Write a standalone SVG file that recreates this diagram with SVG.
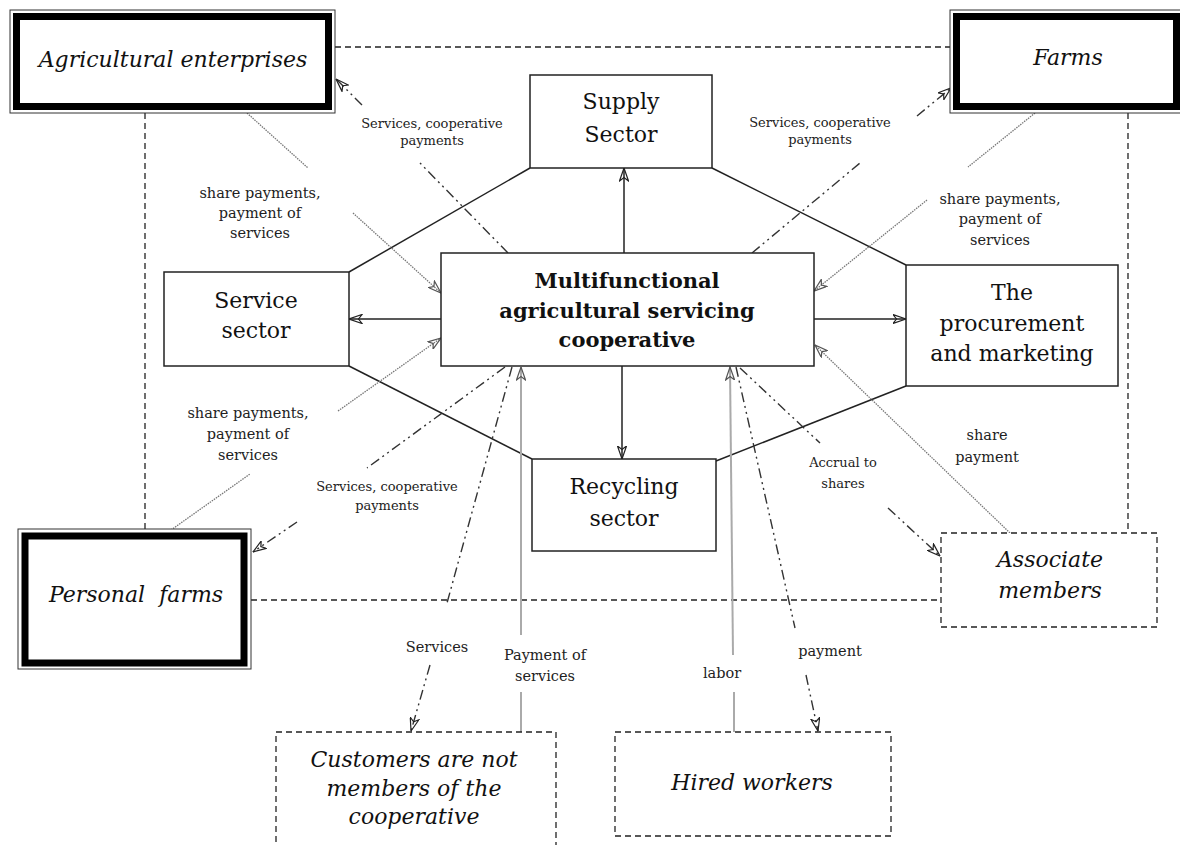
<svg xmlns="http://www.w3.org/2000/svg" width="1180" height="845" viewBox="0 0 1180 845">
  <style>
    .bg { fill: #ffffff; }
    .box { fill: #ffffff; stroke: #222; stroke-width: 1.5; }
    .dbox { fill: #ffffff; stroke: #222; stroke-width: 1.3; stroke-dasharray: 6 4; }
    .outer { fill: #ffffff; stroke: #333; stroke-width: 1; }
    .thick { fill: none; stroke: #000; stroke-width: 7; }
    .t { font-family: "DejaVu Serif", "Liberation Serif", serif; font-size: 22px; fill: #111; text-anchor: middle; }
    .it { font-style: italic; }
    .b { font-weight: bold; font-size: 21px; }
    .lbl { font-family: "DejaVu Serif", "Liberation Serif", serif; font-size: 14.5px; fill: #222; text-anchor: middle; }
    .sm { font-size: 13px; }
    .solid { fill: none; stroke: #222; stroke-width: 1.5; }
    .dashed { fill: none; stroke: #222; stroke-width: 1.3; stroke-dasharray: 6 4; }
    .dd { fill: none; stroke: #333; stroke-width: 1.4; stroke-dasharray: 10 4 2 4 2 4; }
    .dot { fill: none; stroke: #777; stroke-width: 1.3; stroke-dasharray: 1.5 1; }
    .gray { fill: none; stroke: #aaa; stroke-width: 2; }
  </style>
  <defs>
    <marker id="ah" viewBox="0 0 14 10" refX="13.5" refY="5" markerWidth="14" markerHeight="10" markerUnits="userSpaceOnUse" orient="auto">
      <path d="M0.5,0.5 L13.5,5 L0.5,9.5 L4,5 Z" fill="none" stroke="#222" stroke-width="1.2"/>
    </marker>
    <marker id="ahg" viewBox="0 0 14 10" refX="13.5" refY="5" markerWidth="14" markerHeight="10" markerUnits="userSpaceOnUse" orient="auto">
      <path d="M0.5,0.5 L13.5,5 L0.5,9.5 L4,5 Z" fill="none" stroke="#555" stroke-width="1.2"/>
    </marker>
  </defs>

  <rect class="bg" x="0" y="0" width="1180" height="845"/>

  <!-- connectors -->
  <g id="connectors">
    <!-- dashed links between the member groups -->
    <line class="dashed" x1="335" y1="47" x2="950" y2="47"/>
    <line class="dashed" x1="145" y1="113" x2="145" y2="529"/>
    <line class="dashed" x1="1128" y1="113" x2="1128" y2="533"/>
    <line class="dashed" x1="251" y1="600" x2="941" y2="600"/>

    <!-- sector ring -->
    <line class="solid" x1="530" y1="168" x2="349" y2="272"/>
    <line class="solid" x1="712" y1="168" x2="906" y2="265"/>
    <line class="solid" x1="349" y1="366" x2="532" y2="459"/>
    <line class="solid" x1="716" y1="461" x2="906" y2="386"/>

    <!-- cooperative to sectors -->
    <line class="solid" x1="624" y1="253" x2="624" y2="168" marker-end="url(#ah)"/>
    <line class="solid" x1="441" y1="319" x2="349" y2="319" marker-end="url(#ah)"/>
    <line class="solid" x1="814" y1="319" x2="906" y2="319" marker-end="url(#ah)"/>
    <line class="solid" x1="622" y1="366" x2="622" y2="459" marker-end="url(#ah)"/>

    <!-- agricultural enterprises -->
    <line class="dot" x1="247" y1="113" x2="308" y2="168"/>
    <line class="dot" x1="353" y1="213" x2="441" y2="293" marker-end="url(#ahg)"/>
    <line class="dd" x1="508" y1="253" x2="420" y2="163"/>
    <line class="dd" x1="362" y1="105" x2="336" y2="79" marker-end="url(#ah)"/>

    <!-- farms -->
    <line class="dd" x1="752" y1="253" x2="860" y2="163"/>
    <line class="dd" x1="917" y1="116" x2="951" y2="88" marker-end="url(#ah)"/>
    <line class="dot" x1="1035" y1="113" x2="968" y2="167"/>
    <line class="dot" x1="927" y1="200" x2="814" y2="291" marker-end="url(#ahg)"/>

    <!-- personal farms -->
    <line class="dot" x1="171" y1="530" x2="250" y2="474"/>
    <line class="dot" x1="338" y1="411" x2="441" y2="338" marker-end="url(#ahg)"/>
    <line class="dd" x1="505" y1="367" x2="367" y2="468"/>
    <line class="dd" x1="297" y1="522" x2="253" y2="552" marker-end="url(#ah)"/>

    <!-- customers who are not members -->
    <line class="dd" x1="512" y1="367" x2="447" y2="603"/>
    <line class="dd" x1="430" y1="665" x2="411" y2="731" marker-end="url(#ah)"/>
    <line class="gray" x1="521" y1="732" x2="521" y2="692"/>
    <line class="gray" x1="521" y1="635" x2="521" y2="367" marker-end="url(#ahg)"/>

    <!-- hired workers -->
    <line class="gray" x1="734" y1="732" x2="734" y2="692"/>
    <line class="gray" x1="733" y1="655" x2="730" y2="367" marker-end="url(#ahg)"/>
    <line class="dd" x1="736" y1="367" x2="795" y2="628"/>
    <line class="dd" x1="806" y1="675" x2="818" y2="731" marker-end="url(#ah)"/>

    <!-- associate members -->
    <line class="dd" x1="740" y1="368" x2="820" y2="443"/>
    <line class="dd" x1="888" y1="508" x2="940" y2="556" marker-end="url(#ah)"/>
    <line class="dot" x1="1010" y1="533" x2="815" y2="345" marker-end="url(#ahg)"/>

    <!-- flow labels -->
    <text class="lbl sm" x="432" y="128">Services, cooperative</text>
    <text class="lbl sm" x="432" y="145">payments</text>
    <text class="lbl sm" x="820" y="127">Services, cooperative</text>
    <text class="lbl sm" x="820" y="144">payments</text>
    <text class="lbl" x="260" y="198">share payments,</text>
    <text class="lbl" x="260" y="218">payment of</text>
    <text class="lbl" x="260" y="238">services</text>
    <text class="lbl" x="1000" y="204">share payments,</text>
    <text class="lbl" x="1000" y="224">payment of</text>
    <text class="lbl" x="1000" y="245">services</text>
    <text class="lbl" x="248" y="418">share payments,</text>
    <text class="lbl" x="248" y="439">payment of</text>
    <text class="lbl" x="248" y="460">services</text>
    <text class="lbl sm" x="387" y="491">Services, cooperative</text>
    <text class="lbl sm" x="387" y="510">payments</text>
    <text class="lbl sm" x="843" y="467">Accrual to</text>
    <text class="lbl sm" x="843" y="488">shares</text>
    <text class="lbl" x="987" y="440">share</text>
    <text class="lbl" x="987" y="462">payment</text>
    <text class="lbl" x="437" y="652">Services</text>
    <text class="lbl" x="545" y="660">Payment of</text>
    <text class="lbl" x="545" y="681">services</text>
    <text class="lbl" x="722" y="678">labor</text>
    <text class="lbl" x="830" y="656">payment</text>
  </g>

  <!-- member groups (double border) -->
  <g id="agricultural-enterprises">
    <rect class="outer" x="10" y="10" width="325" height="103"/>
    <rect class="thick" x="16.5" y="16.5" width="312" height="90"/>
    <text class="t it" x="173" y="67">Agricultural enterprises</text>
  </g>
  <g id="farms">
    <rect class="outer" x="950" y="10" width="240" height="103"/>
    <rect class="thick" x="956.5" y="16.5" width="220" height="90"/>
    <text class="t it" x="1068" y="65">Farms</text>
  </g>
  <g id="personal-farms">
    <rect class="outer" x="18" y="529" width="233" height="140"/>
    <rect class="thick" x="25" y="536" width="219" height="127"/>
    <text class="t it" x="136" y="602" xml:space="preserve">Personal  farms</text>
  </g>

  <!-- dashed outside parties -->
  <g id="associate-members">
    <rect class="dbox" x="941" y="533" width="216" height="94"/>
    <text class="t it" x="1050" y="567">Associate</text>
    <text class="t it" x="1050" y="598">members</text>
  </g>
  <g id="customers">
    <rect class="dbox" x="276" y="732" width="280" height="125"/>
    <text class="t it" x="414" y="767">Customers are not</text>
    <text class="t it" x="414" y="796">members of the</text>
    <text class="t it" x="414" y="824">cooperative</text>
  </g>
  <g id="hired-workers">
    <rect class="dbox" x="615" y="732" width="276" height="104"/>
    <text class="t it" x="752" y="790">Hired workers</text>
  </g>

  <!-- cooperative and its sectors -->
  <g id="cooperative">
    <rect class="box" x="441" y="253" width="373" height="113"/>
    <text class="t b" x="627" y="288">Multifunctional</text>
    <text class="t b" x="627" y="318">agricultural servicing</text>
    <text class="t b" x="627" y="347">cooperative</text>
  </g>
  <g id="supply-sector">
    <rect class="box" x="530" y="75" width="182" height="93"/>
    <text class="t" x="621" y="109">Supply</text>
    <text class="t" x="621" y="142">Sector</text>
  </g>
  <g id="service-sector">
    <rect class="box" x="164" y="272" width="185" height="94"/>
    <text class="t" x="256" y="308">Service</text>
    <text class="t" x="256" y="338">sector</text>
  </g>
  <g id="procurement-marketing">
    <rect class="box" x="906" y="265" width="212" height="121"/>
    <text class="t" x="1012" y="300">The</text>
    <text class="t" x="1012" y="331">procurement</text>
    <text class="t" x="1012" y="361">and marketing</text>
  </g>
  <g id="recycling-sector">
    <rect class="box" x="532" y="459" width="184" height="92"/>
    <text class="t" x="624" y="494">Recycling</text>
    <text class="t" x="624" y="526">sector</text>
  </g>
</svg>
